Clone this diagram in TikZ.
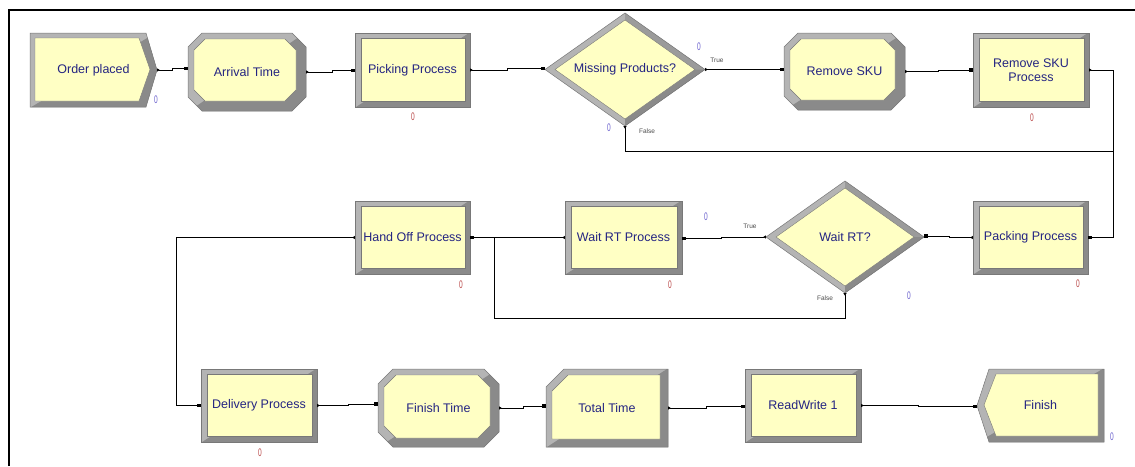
\documentclass[tikz,border=0pt]{standalone}
\usepackage{fontspec}
\usepackage{graphicx}
\setmainfont{Liberation Sans}
\usetikzlibrary{arrows.meta}
\definecolor{bevl}{RGB}{180,180,180}
\definecolor{bevd}{RGB}{138,138,138}
\definecolor{bevm}{RGB}{155,155,155}
\definecolor{modfill}{RGB}{255,255,196}
\definecolor{modtext}{RGB}{36,36,130}
\definecolor{cntblue}{RGB}{105,95,205}
\definecolor{cntred}{RGB}{185,70,70}
\definecolor{edgec}{RGB}{120,120,120}
\tikzset{
  modnode/.style={draw=none, inner sep=0pt, text=modtext, font=\fontsize{12.5}{14.5}\selectfont, align=center},
  conn/.style={draw=black, line width=0.9pt, arrows={Triangle[reversed,length=2.5pt,width=3pt]-Square[length=3.5pt,width=3.5pt]}},
  cnt/.style={font=\fontsize{11}{11}\selectfont, inner sep=0pt},
  cntb/.style={cnt, text=cntblue},
  cntr/.style={cnt, text=cntred},
  branch/.style={font=\fontsize{6.5}{7}\selectfont, text=black!70, inner sep=0pt},
  innerf/.style={fill=modfill, draw=edgec, line width=0.4pt},
}
% shape paths: L T R B k
\newcommand\rp[5]{(#1,#2) rectangle (#3,#4)}
\newcommand\octp[5]{(#1+#5,#2) -- (#3-#5,#2) -- (#3,#2+#5) -- (#3,#4-#5) -- (#3-#5,#4) -- (#1+#5,#4) -- (#1,#4-#5) -- (#1,#2+#5) -- cycle}
\newcommand\crp[5]{(#1,#2) -- (#3-#5,#2) -- (#3,{(#2+#4)/2}) -- (#3-#5,#4) -- (#1,#4) -- cycle}
\newcommand\dsp[5]{(#1+#5,#2) -- (#3,#2) -- (#3,#4) -- (#1+#5,#4) -- (#1,{(#2+#4)/2}) -- cycle}
\newcommand\recp[5]{(#1+#5,#2) -- (#3,#2) -- (#3,#4) -- (#1,#4) -- (#1,#2+#5) -- cycle}
\newcommand\setinset[5]{\def\insL{#1}\def\insT{#2}\def\insR{#3}\def\insB{#4}\def\insK{#5}}
\newcommand\drawmod[8]{%
  \fill[bevl] #1{#3}{#4}{#5}{#6}{#7};
  \begin{scope}
    \clip (#5+2,#4-2) -- (#5+2,#6+2) -- (#3-2,#6+2) -- cycle;
    \fill[bevd] #1{#3}{#4}{#5}{#6}{#7};
  \end{scope}
  \draw[edgec, line width=0.5pt] #1{#3}{#4}{#5}{#6}{#7};
  \pgfmathsetmacro\qL{#3+\insL}\pgfmathsetmacro\qT{#4+\insT}%
  \pgfmathsetmacro\qR{#5-\insR}\pgfmathsetmacro\qB{#6-\insB}%
  \pgfmathsetmacro\qk{#7-\insK}%
  \filldraw[innerf] #1{\qL}{\qT}{\qR}{\qB}{\qk};
  \node[modnode, minimum width={(#5-#3)*1pt}, minimum height={(#6-#4)*1pt}] (#2) at ({(#3+#5)/2},{(#4+#6)/2}) {#8};
}
\newcommand\diamod[6]{%
  \pgfmathsetmacro\qX{(#2+#4)/2}\pgfmathsetmacro\qY{(#3+#5)/2}%
  \fill[bevl] (#2,\qY) -- (\qX,#3) -- (#4,\qY) -- (\qX,#5) -- cycle;
  \fill[bevm] (\qX,#3) -- (#4,\qY) -- (\qX,#5) -- cycle;
  \fill[bevd] (#4,\qY) -- (\qX,#5) -- (\qX,#5-7) -- (#4-10,\qY) -- cycle;
  \draw[edgec, line width=0.5pt] (#2,\qY) -- (\qX,#3) -- (#4,\qY) -- (\qX,#5) -- cycle;
  \filldraw[innerf] (#2+10,\qY) -- (\qX,#3+7) -- (#4-10,\qY) -- (\qX,#5-7) -- cycle;
  \node[modnode, minimum width={(#4-#2)*1pt}, minimum height={(#5-#3)*1pt}] (#1) at (\qX,\qY) {#6};
}
\begin{document}
\begin{tikzpicture}[x=1pt,y=-1pt]
\useasboundingbox (0,0) rectangle (1135,466);
\fill[white] (0,0) rectangle (1135,466);
\draw[line width=1.4pt] (9,466) -- (9,10) -- (1135,10);

% row 1
\setinset{5}{5}{7}{6}{0}
\drawmod{\crp}{op}{30}{33}{157}{107}{11}{Order placed}
\setinset{6}{6}{10}{10}{3}
\drawmod{\octp}{at}{188}{33}{306}{111}{14}{Arrival Time}
\setinset{6}{5}{5}{6}{0}
\drawmod{\rp}{pp}{355}{33}{470}{107}{0}{Picking Process}
\diamod{mp}{545}{13}{705}{126}{Missing Products?}
\setinset{6}{6}{10}{10}{3}
\drawmod{\octp}{rs}{784}{33}{905}{110}{14}{Remove SKU}
\setinset{6}{5}{5}{6}{0}
\drawmod{\rp}{rsp}{973}{33}{1089}{107}{0}{Remove SKU\\Process}

% row 2
\drawmod{\rp}{pk}{973}{201}{1088}{274}{0}{Packing Process}
\diamod{wrt}{766}{181}{924}{293}{Wait RT?}
\drawmod{\rp}{wrp}{565}{201}{682}{274}{0}{Wait RT Process}
\drawmod{\rp}{ho}{355}{201}{470}{274}{0}{Hand Off Process}

% row 3
\drawmod{\rp}{dp}{201}{369}{317}{442}{0}{Delivery Process}
\setinset{6}{6}{9}{9}{3}
\drawmod{\octp}{ft}{378}{369}{499}{447}{15}{Finish Time}
\setinset{6}{6}{8}{8}{2}
\drawmod{\recp}{tt}{546}{369}{668}{447}{18}{Total Time}
\setinset{6}{5}{5}{6}{0}
\drawmod{\rp}{rw}{745}{369}{861}{442}{0}{ReadWrite 1}
\setinset{7}{5}{6}{6}{0}
\drawmod{\dsp}{fn}{977}{369}{1104}{442}{12}{Finish}

% connectors
\draw[conn] (op.east) -- ++(15,0) -- ++(0,-1.5) coordinate (j1) -- (j1 -| at.west);
\draw[conn] (at.east) -- ++(26,0) -- ++(0,-1.5) coordinate (j2) -- (j2 -| pp.west);
\draw[conn] (pp.east) -- ++(37,0) -- ++(0,-1.5) coordinate (j3) -- (j3 -| mp.west);
\draw[conn] (mp.east) -- (mp.east -| rs.west);
\draw[conn] (rs.east) -- ++(33,0) -- ++(0,-1.5) coordinate (j4) -- (j4 -| rsp.west);
\coordinate (jr) at (1113,151);
\draw[conn] (rsp.east) -| (jr) |- (pk.east);
\draw[conn] (mp.south) |- (jr) |- (pk.east);
\draw[conn] (pk.west) -- ++(-23,0) -- ++(0,-1.5) coordinate (j5) -- (j5 -| wrt.east);
\draw[conn] (wrt.west) -- ++(-44,0) -- ++(0,1.5) coordinate (j6) -- (j6 -| wrp.east);
\draw[conn] (wrp.west) -- (wrp.west -| ho.east);
\coordinate (jb) at (494,318);
\draw[conn] (wrt.south) |- (jb) |- (ho.east);
\draw[conn] (ho.west) -- ++(-178,0) |- (dp.west);
\draw[conn] (dp.east) -- ++(31,0) -- ++(0,-1.5) coordinate (j7) -- (j7 -| ft.west);
\draw[conn] (ft.east) -- ++(24,0) -- ++(0,-2) coordinate (j8) -- (j8 -| tt.west);
\draw[conn] (tt.east) -- ++(38,0) -- ++(0,-1.5) coordinate (j9) -- (j9 -| rw.west);
\draw[conn] (rw.east) -- ++(57,0) -- ++(0,1) coordinate (j10) -- (j10 -| fn.west);

% counters and branch labels
\node[cntb] (n1) at (156,100) {\scalebox{0.6}[1]{0}};
\node[cntr] (n2) at (413,117) {\scalebox{0.6}[1]{0}};
\node[cntb] (n3) at (699,47) {\scalebox{0.6}[1]{0}};
\node[branch] (b1) at (717,60) {True};
\node[cntb] (n4) at (609,128) {\scalebox{0.6}[1]{0}};
\node[branch] (b2) at (647,131) {False};
\node[cntr] (n5) at (1032,118) {\scalebox{0.6}[1]{0}};
\node[cntb] (n6) at (706,217) {\scalebox{0.6}[1]{0}};
\node[branch] (b3) at (750,226) {True};
\node[branch] (b4) at (825,298) {False};
\node[cntb] (n7) at (909,296) {\scalebox{0.6}[1]{0}};
\node[cntr] (n8) at (670,285) {\scalebox{0.6}[1]{0}};
\node[cntr] (n9) at (461,285) {\scalebox{0.6}[1]{0}};
\node[cntr] (n10) at (1078,284) {\scalebox{0.6}[1]{0}};
\node[cntr] (n11) at (260,453) {\scalebox{0.6}[1]{0}};
\node[cntb] (n12) at (1112,437) {\scalebox{0.6}[1]{0}};
\end{tikzpicture}
\end{document}
